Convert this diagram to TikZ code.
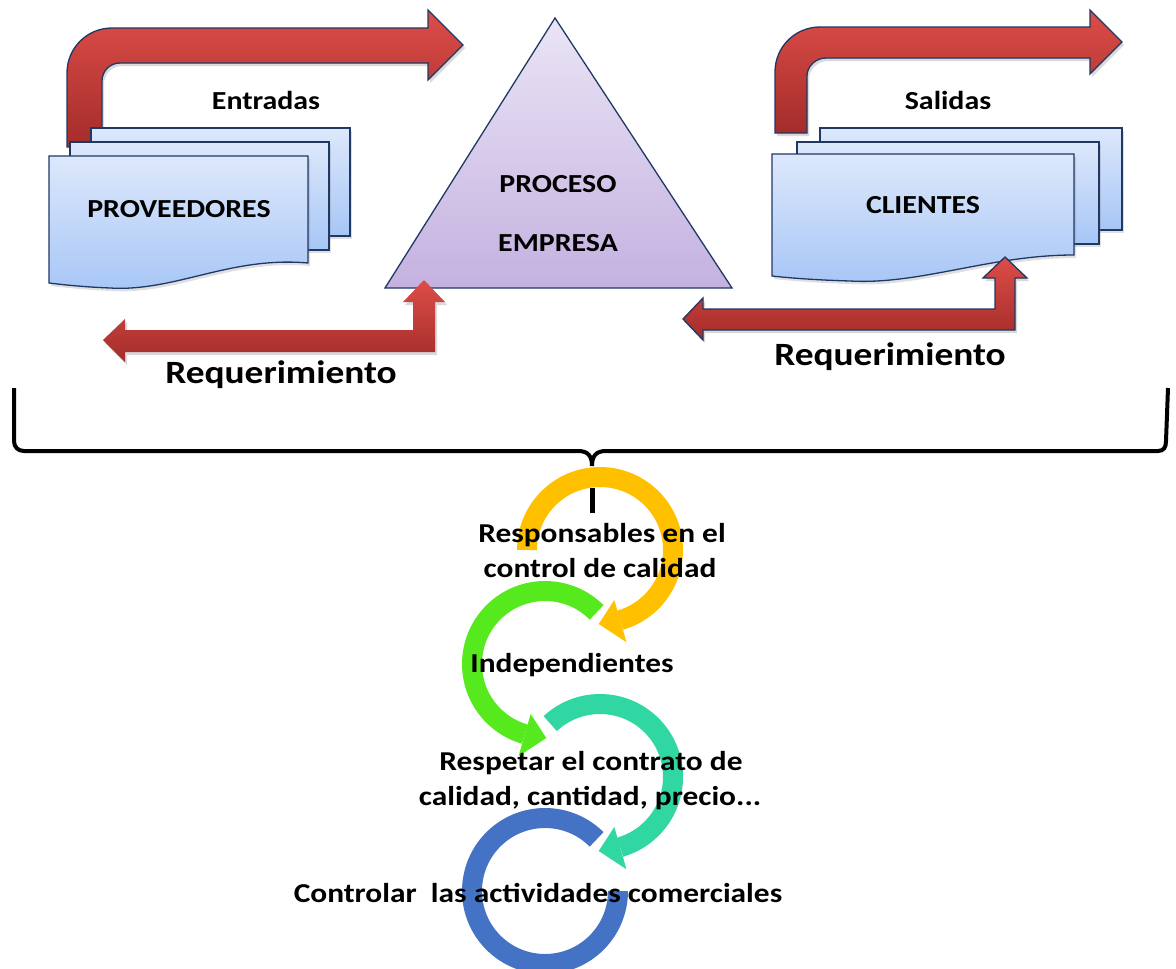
\documentclass[tikz,border=0pt]{standalone}
\usepackage{fontspec}
\setmainfont{Carlito}[FakeStretch=1.15]
\usetikzlibrary{shadows}
\definecolor{navy}{HTML}{1F3864}
\definecolor{pagetop}{HTML}{DDE8FB}
\definecolor{pagebot}{HTML}{A7C6F6}
\definecolor{tritop}{HTML}{EAE5F5}
\definecolor{tribot}{HTML}{C4B1E0}
\definecolor{redtop}{HTML}{DD4D48}
\definecolor{redbot}{HTML}{A32C2A}
\definecolor{cyellow}{HTML}{FFC000}
\definecolor{cgreen}{HTML}{55E91E}
\definecolor{cteal}{HTML}{30D7A2}
\definecolor{cblue}{HTML}{4472C4}
\begin{document}
\begin{tikzpicture}[x=1pt,y=-1pt,
  page/.style={draw=navy,line width=1.3,top color=pagetop,bottom color=pagebot,
    drop shadow={opacity=.25,shadow xshift=2pt,shadow yshift=-3pt}},
  bigarrow/.style={draw=navy,line width=1.3,top color=redtop,bottom color=redbot,
    drop shadow={opacity=.3,shadow xshift=2pt,shadow yshift=-3pt}},
  reqarrow/.style={top color=redtop,bottom color=redbot,
    drop shadow={opacity=.3,shadow xshift=2pt,shadow yshift=-3pt}},
  txt/.style={font=\bfseries\fontsize{26}{32}\selectfont,inner sep=0pt,anchor=base},
  cyctxt/.style={txt,font=\bfseries\fontsize{27.3}{33}\selectfont},
  bigtxt/.style={txt,font=\bfseries\fontsize{32.5}{38}\selectfont},
  ring/.style={line width=20}]
  \useasboundingbox (0,0) rectangle (1176,969);
  % entradas / salidas
  \draw[bigarrow] (67,147) -- (67,73) .. controls (67,48) and (87,28) .. (112,28)
    -- (428,28) -- (428,10) -- (463,45) -- (428,80) -- (428,63) -- (120,63)
    .. controls (110,63) and (102,71) .. (102,81) -- (102,147) -- cycle;
  \draw[bigarrow] (775,133) -- (775,72) .. controls (775,47) and (795,27) .. (820,27)
    -- (1090,27) -- (1090,10) -- (1122,42) -- (1090,74) -- (1090,58) -- (826,58)
    .. controls (816,58) and (807,66) .. (807,76) -- (807,133) -- cycle;
  % proveedores
  \foreach \dx/\dy in {42/28,21/14}
    \draw[page] (49+\dx,156-\dy) rectangle ++(259,108);
  \draw[page] (49,156) -- (308,156) -- (308,263) .. controls (230,256) and (175,292) .. (110,288)
    .. controls (85,287) and (65,285) .. (49,283) -- cycle;
  % clientes
  \foreach \dx/\dy in {48/26,25/12}
    \draw[page] (772+\dx,154-\dy) rectangle ++(302,102);
  \draw[page] (772,154) -- (1074,154) -- (1074,255) .. controls (990,255) and (920,285) .. (850,281)
    .. controls (815,280) and (790,278) .. (772,276) -- cycle;
  % proceso
  \draw[navy,line width=1.3,top color=tritop,bottom color=tribot] (555,18) -- (732,288) -- (385,288) -- cycle;
  % requerimientos
  \path[reqarrow] (103,340) -- (125,319) -- (125,330) -- (413,330) -- (413,302) -- (403,302)
    -- (424,280) -- (445,302) -- (435,302) -- (435,352) -- (125,352) -- (125,362) -- cycle;
  \draw[reqarrow,draw=navy,line width=1.3] (683,319) -- (703,298) -- (703,309) -- (995,309)
    -- (995,278) -- (983,278) -- (1005,257) -- (1027,278) -- (1015,278) -- (1015,330)
    -- (703,330) -- (703,340) -- cycle;
  % llave
  \draw[line width=4] (14,388) -- (14,441) .. controls (14,447) and (18,451) .. (24,451)
    -- (578,451) .. controls (588,451) and (592,456) .. (592,466)
    .. controls (592,456) and (596,451) .. (606,451) -- (1158,451)
    .. controls (1164,451) and (1166,447) .. (1166,441) -- (1168,388);
  % ciclo
  \foreach \cx/\cy/\a/\b/\d/\col in {600/550/180/434/1/cyellow,545/664/-45/-254/-1/cgreen,600/777/-133/74/1/cteal}{
    \pgfmathsetmacro\t{\b+17*\d}
    \draw[ring,\col] (\cx,\cy) ++(\a:73) arc[start angle=\a,end angle=\b,radius=73];
    \fill[\col] ([shift={(\b:96)}]\cx,\cy) -- ([shift={(\t:74)}]\cx,\cy) -- ([shift={(\b:52)}]\cx,\cy) -- cycle;
  }
  \draw[ring,cblue] (545,891) ++(-45:73) arc[start angle=-45,end angle=-360,radius=73];
  \draw[line width=5] (592,488) -- (592,513);
  % textos
  \node[txt] (ent) at (266,109) {Entradas};
  \node[txt] (sal) at (948,109) {Salidas};
  \node[txt] (prov) at (179,217) {PROVEEDORES};
  \node[txt] (cli) at (923,213) {CLIENTES};
  \node[txt] (proc) at (558,192) {PROCESO};
  \node[txt] (emp) at (558,251) {EMPRESA};
  \node[bigtxt] (reqL) at (281,383) {Requerimiento};
  \node[bigtxt] (reqR) at (890,365) {Requerimiento};
  \node[cyctxt] (resp) at (602,542) {Responsables en el};
  \node[cyctxt] (resp2) at (600,577) {control de calidad};
  \node[cyctxt] (indep) at (572,672) {Independientes};
  \node[cyctxt] (contr) at (591,770) {Respetar el contrato de};
  \node[cyctxt] (contr2) at (590,805) {calidad, cantidad, precio...};
  \node[cyctxt] (activ) at (538,902) {Controlar\ \ las actividades comerciales};
\end{tikzpicture}
\end{document}
